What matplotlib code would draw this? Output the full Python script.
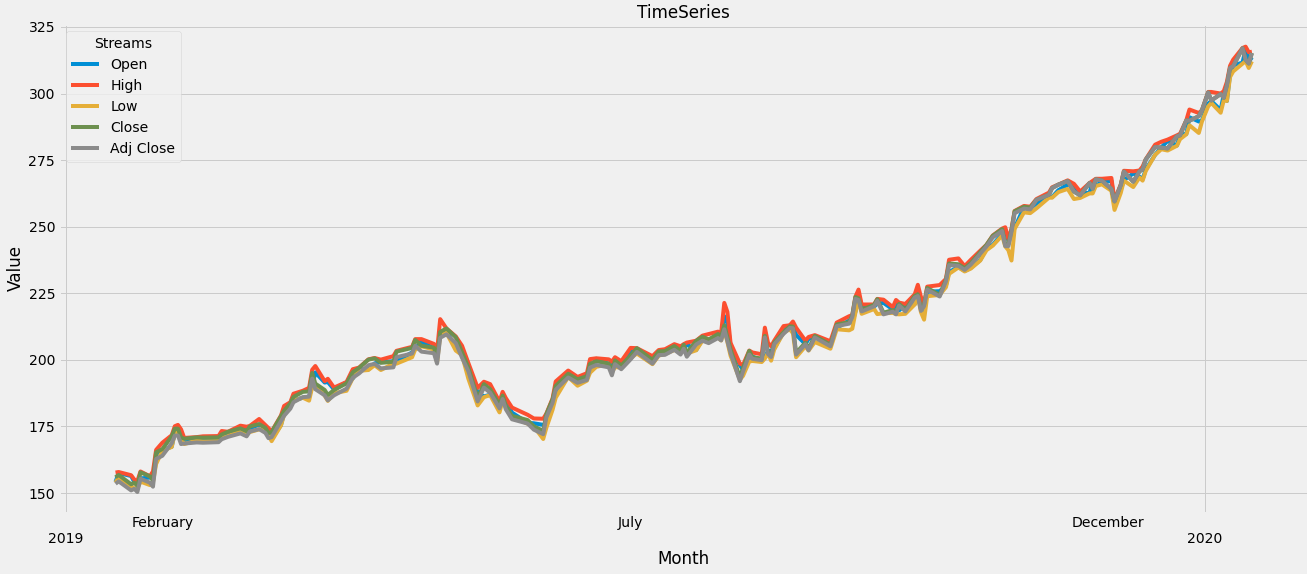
import pandas as pd
import matplotlib
matplotlib.use('Agg')
import matplotlib.pyplot as plt
import matplotlib.dates as mdates
from matplotlib.ticker import MultipleLocator, FixedLocator

plt.style.use('fivethirtyeight')

dates = [
    '2019-01-17', '2019-01-18', '2019-01-22', '2019-01-23', '2019-01-24', '2019-01-25', '2019-01-28', '2019-01-29', '2019-01-30', '2019-02-01',
    '2019-02-04', '2019-02-05', '2019-02-06', '2019-02-07', '2019-02-08', '2019-02-12', '2019-02-14', '2019-02-19', '2019-02-20', '2019-02-22',
    '2019-02-26', '2019-02-28', '2019-03-01', '2019-03-04', '2019-03-06', '2019-03-07', '2019-03-08', '2019-03-11', '2019-03-12', '2019-03-14',
    '2019-03-15', '2019-03-18', '2019-03-20', '2019-03-21', '2019-03-22', '2019-03-25', '2019-03-26', '2019-03-28', '2019-04-01', '2019-04-03',
    '2019-04-05', '2019-04-08', '2019-04-10', '2019-04-12', '2019-04-16', '2019-04-17', '2019-04-22', '2019-04-23', '2019-04-25', '2019-04-29',
    '2019-04-30', '2019-05-01', '2019-05-03', '2019-05-06', '2019-05-08', '2019-05-10', '2019-05-13', '2019-05-15', '2019-05-17', '2019-05-20',
    '2019-05-21', '2019-05-22', '2019-05-24', '2019-05-29', '2019-05-31', '2019-06-03', '2019-06-04', '2019-06-06', '2019-06-07', '2019-06-11',
    '2019-06-14', '2019-06-17', '2019-06-18', '2019-06-20', '2019-06-24', '2019-06-25', '2019-06-26', '2019-06-28', '2019-07-01', '2019-07-03',
    '2019-07-08', '2019-07-10', '2019-07-12', '2019-07-15', '2019-07-17', '2019-07-18', '2019-07-19', '2019-07-22', '2019-07-24', '2019-07-26',
    '2019-07-29', '2019-07-30', '2019-07-31', '2019-08-01', '2019-08-02', '2019-08-05', '2019-08-06', '2019-08-08', '2019-08-09', '2019-08-12',
    '2019-08-13', '2019-08-14', '2019-08-15', '2019-08-16', '2019-08-19', '2019-08-21', '2019-08-22', '2019-08-23', '2019-08-26', '2019-08-27',
    '2019-08-29', '2019-09-03', '2019-09-05', '2019-09-09', '2019-09-10', '2019-09-11', '2019-09-12', '2019-09-13', '2019-09-17', '2019-09-18',
    '2019-09-20', '2019-09-23', '2019-09-24', '2019-09-25', '2019-09-27', '2019-09-30', '2019-10-01', '2019-10-02', '2019-10-03', '2019-10-04',
    '2019-10-08', '2019-10-10', '2019-10-11', '2019-10-14', '2019-10-16', '2019-10-18', '2019-10-21', '2019-10-23', '2019-10-25', '2019-10-28',
    '2019-10-29', '2019-10-30', '2019-10-31', '2019-11-01', '2019-11-04', '2019-11-06', '2019-11-08', '2019-11-12', '2019-11-13', '2019-11-15',
    '2019-11-18', '2019-11-20', '2019-11-22', '2019-11-25', '2019-11-26', '2019-11-27', '2019-11-29', '2019-12-02', '2019-12-03', '2019-12-05',
    '2019-12-06', '2019-12-09', '2019-12-11', '2019-12-12', '2019-12-13', '2019-12-16', '2019-12-18', '2019-12-20', '2019-12-23', '2019-12-24',
    '2019-12-26', '2019-12-27', '2019-12-30', '2019-12-31', '2020-01-02', '2020-01-03', '2020-01-06', '2020-01-07', '2020-01-08', '2020-01-09',
    '2020-01-10', '2020-01-13', '2020-01-14', '2020-01-15', '2020-01-16',
]

open_ = [
    154.2, 157.5, 156.4, 154.2, 154.1, 155.5, 155.8, 156.2, 163.3, 166.1,
    167.4, 172.9, 174.7, 172.4, 168.9, 170.1, 169.7, 169.7, 171.2, 171.6,
    173.7, 174.3, 174.3, 175.7, 174.7, 173.9, 170.3, 175.5, 180.0, 183.9,
    184.8, 185.8, 186.2, 190.0, 195.3, 191.5, 191.7, 188.9, 191.6, 193.0,
    196.5, 196.4, 198.7, 199.2, 199.5, 199.5, 202.8, 204.4, 206.8, 204.4,
    203.1, 209.9, 210.9, 204.3, 201.9, 197.4, 187.7, 186.3, 186.9, 183.5,
    185.2, 184.7, 180.2, 176.4, 176.2, 175.6, 175.4, 183.1, 186.5, 194.9,
    191.6, 192.9, 196.1, 200.4, 198.5, 198.4, 197.8, 198.7, 203.2, 203.3,
    200.8, 201.9, 202.5, 204.1, 204.0, 204.0, 205.8, 203.7, 207.7, 207.5,
    208.5, 208.8, 216.4, 213.9, 205.5, 198.0, 196.3, 200.2, 201.3, 199.6,
    201.0, 203.2, 203.5, 204.3, 210.6, 213.0, 213.2, 209.4, 205.9, 207.9,
    208.5, 206.4, 212.0, 214.8, 213.9, 218.1, 224.8, 220.0, 220.0, 221.1,
    221.4, 218.95, 221.0, 218.6, 220.5, 220.9, 225.1, 223.1, 218.4, 225.6,
    225.8, 227.9, 233.0, 234.9, 233.4, 234.6, 237.5, 242.1, 243.2, 247.4,
    249.0, 244.8, 247.2, 249.5, 257.3, 256.8, 258.7, 261.6, 261.1, 263.7,
    265.8, 265.5, 262.6, 262.7, 266.9, 265.6, 266.6, 267.3, 259.0, 263.8,
    267.5, 270.0, 268.8, 267.8, 271.5, 277.0, 279.8, 282.2, 280.5, 284.7,
    284.8, 291.1, 289.5, 289.9, 296.2, 297.2, 293.8, 299.8, 297.2, 307.2,
    310.6, 311.6, 316.7, 311.9, 313.6,
]

high = [
    157.7, 157.9, 156.7, 155.1, 154.5, 158.1, 156.3, 158.1, 166.2, 168.9,
    171.7, 175.1, 175.6, 173.9, 170.7, 171.0, 171.3, 171.4, 173.3, 173.0,
    175.3, 174.9, 175.2, 177.8, 175.5, 174.4, 173.1, 179.1, 182.7, 184.1,
    187.3, 188.4, 189.5, 196.3, 197.7, 192.0, 192.9, 189.6, 191.7, 196.5,
    197.1, 200.2, 200.7, 200.1, 201.4, 203.4, 204.9, 207.8, 207.8, 206.0,
    203.4, 215.3, 211.8, 208.8, 205.3, 198.9, 189.5, 191.8, 190.9, 184.3,
    188.0, 185.7, 182.1, 179.4, 178.0, 177.9, 179.8, 185.5, 191.9, 196.0,
    193.6, 195.0, 200.3, 200.6, 200.2, 199.3, 201.0, 199.5, 204.5, 204.4,
    201.4, 203.7, 204.0, 205.9, 205.1, 205.9, 206.5, 207.2, 209.1, 209.7,
    210.6, 210.2, 221.4, 218.0, 206.4, 198.6, 198.1, 203.5, 202.8, 202.1,
    212.1, 206.4, 205.1, 207.2, 212.7, 213.0, 214.4, 212.1, 207.2, 208.6,
    209.3, 207.0, 214.0, 216.4, 216.8, 223.7, 226.4, 220.8, 220.8, 222.9,
    222.6, 219.8, 222.5, 221.5, 221.0, 224.6, 228.2, 223.6, 221.0, 227.5,
    228.1, 230.4, 237.6, 238.1, 235.2, 237.6, 241.0, 243.2, 246.7, 249.3,
    249.8, 245.3, 249.2, 255.9, 257.8, 257.5, 260.4, 262.8, 264.8, 265.8,
    267.4, 266.1, 263.2, 266.4, 267.2, 268.0, 268.0, 268.3, 260.0, 265.9,
    271.0, 270.8, 271.1, 272.6, 275.3, 280.8, 281.9, 282.7, 284.3, 284.9,
    290.0, 294.0, 292.7, 293.7, 300.6, 300.6, 300.0, 300.9, 304.4, 310.4,
    312.7, 317.1, 317.6, 315.5, 315.7,
]

low = [
    153.9, 155.98, 152.6, 151.7, 151.7, 154.3, 153.0, 154.1, 160.9, 165.9,
    167.3, 172.4, 172.9, 170.5, 168.4, 169.7, 169.4, 169.5, 170.8, 171.4,
    173.2, 172.9, 172.9, 173.9, 173.9, 171.9, 169.5, 175.4, 179.4, 182.6,
    184.7, 185.8, 184.7, 189.8, 190.8, 186.6, 184.6, 187.5, 188.4, 193.2,
    195.9, 196.2, 198.0, 196.2, 198.6, 198.6, 201.0, 203.9, 205.1, 203.9,
    199.1, 209.2, 210.2, 203.5, 201.8, 193.0, 182.9, 186.0, 186.8, 180.3,
    184.7, 182.6, 178.6, 176.0, 175.0, 170.3, 174.5, 181.3, 185.8, 193.6,
    190.3, 192.2, 195.2, 197.4, 198.4, 195.3, 197.3, 197.1, 200.7, 202.4,
    198.4, 201.6, 202.2, 203.7, 203.3, 203.7, 202.4, 203.6, 207.2, 207.1,
    208.4, 207.3, 211.3, 206.7, 201.6, 192.6, 194.0, 199.4, 199.6, 199.2,
    200.5, 202.6, 199.7, 203.9, 210.3, 211.5, 210.0, 201.0, 205.1, 203.5,
    206.7, 204.2, 211.5, 211.1, 211.7, 217.7, 222.9, 217.3, 219.1, 217.2,
    217.5, 217.65, 217.2, 217.1, 217.3, 220.8, 224.2, 217.9, 215.1, 223.9,
    224.4, 227.3, 232.3, 234.7, 233.2, 234.3, 237.3, 241.2, 242.9, 246.7,
    242.6, 241.2, 237.3, 249.2, 255.4, 255.1, 256.9, 260.9, 260.9, 263.0,
    264.2, 260.4, 260.8, 262.5, 262.5, 265.3, 265.9, 263.5, 256.3, 262.7,
    267.3, 264.9, 268.5, 267.3, 270.9, 277.0, 279.1, 278.6, 280.4, 282.9,
    284.7, 288.1, 285.2, 289.5, 295.2, 296.5, 292.8, 297.5, 297.2, 306.2,
    308.3, 311.2, 312.2, 309.6, 312.1,
]

close = [
    155.9, 156.8, 153.3, 153.9, 152.7, 157.8, 156.3, 154.7, 165.3, 166.5,
    171.3, 174.2, 174.2, 170.9, 170.4, 170.9, 170.8, 170.9, 172.0, 173.0,
    174.3, 173.2, 175.0, 175.9, 174.5, 172.5, 172.9, 178.9, 180.9, 183.7,
    186.1, 188.0, 188.2, 195.1, 191.1, 188.7, 186.8, 188.7, 191.2, 195.4,
    197.0, 200.1, 200.6, 198.9, 199.3, 203.1, 204.5, 207.5, 205.3, 204.6,
    200.7, 210.5, 211.8, 208.5, 202.9, 197.2, 185.7, 190.9, 189.0, 183.1,
    186.6, 182.8, 179.0, 177.4, 175.1, 173.3, 179.6, 185.2, 190.2, 194.8,
    192.7, 193.9, 198.5, 199.5, 198.6, 195.6, 199.8, 197.9, 201.6, 204.4,
    200.0, 203.2, 203.3, 205.2, 203.4, 205.7, 202.6, 207.2, 208.7, 207.7,
    209.7, 208.8, 213.0, 208.4, 204.0, 193.3, 197.0, 203.4, 201.0, 200.5,
    209.0, 202.8, 201.7, 206.5, 210.4, 212.6, 212.5, 202.6, 206.5, 204.2,
    209.0, 205.7, 213.3, 214.2, 216.7, 223.6, 223.1, 218.8, 220.7, 222.8,
    217.7, 218.7, 217.7, 221.0, 218.8, 224.0, 224.6, 219.0, 220.8, 227.0,
    224.4, 230.1, 236.2, 235.9, 234.4, 236.4, 240.5, 243.2, 246.6, 249.1,
    243.3, 243.3, 248.8, 255.8, 257.5, 257.2, 260.1, 262.0, 264.5, 265.8,
    267.1, 263.2, 261.8, 266.4, 264.3, 267.8, 267.3, 264.2, 259.5, 265.6,
    270.7, 266.9, 270.8, 271.5, 275.2, 279.9, 279.7, 279.4, 284.0, 284.3,
    289.9, 289.8, 291.5, 293.7, 300.4, 297.4, 299.8, 298.4, 303.2, 309.6,
    310.3, 317.0, 312.7, 311.3, 315.2,
]

adj_close = [
    153.5, 154.4, 151.0, 151.6, 150.4, 155.4, 153.9, 152.4, 162.8, 164.0,
    168.7, 171.6, 171.6, 168.4, 168.6, 169.0, 168.9, 169.1, 170.2, 171.1,
    172.4, 171.3, 173.1, 174.0, 172.6, 170.6, 171.0, 177.0, 179.0, 181.7,
    184.1, 186.0, 186.2, 193.0, 189.0, 186.7, 184.8, 186.7, 189.2, 193.3,
    194.9, 198.0, 198.5, 196.8, 197.2, 201.0, 202.4, 205.3, 203.1, 202.5,
    198.6, 208.3, 209.6, 206.3, 200.8, 195.8, 184.4, 189.6, 187.7, 181.8,
    185.3, 181.5, 177.7, 176.1, 173.8, 172.1, 178.4, 183.9, 188.8, 193.4,
    191.4, 192.5, 197.1, 198.1, 197.2, 194.2, 198.4, 196.5, 200.2, 203.0,
    198.6, 201.8, 201.9, 203.8, 202.0, 204.2, 201.2, 205.8, 207.2, 206.3,
    208.2, 207.3, 211.5, 207.0, 202.6, 192.0, 195.6, 202.0, 200.4, 199.9,
    208.4, 202.2, 201.1, 205.9, 209.8, 212.0, 211.9, 202.0, 205.9, 203.6,
    208.4, 205.1, 212.7, 213.6, 216.1, 222.9, 222.5, 218.2, 220.1, 222.2,
    217.1, 218.1, 217.1, 220.4, 218.2, 223.4, 224.0, 218.4, 220.2, 226.4,
    223.8, 229.5, 235.6, 235.3, 233.8, 235.8, 239.9, 242.6, 246.0, 248.4,
    242.7, 242.7, 248.1, 255.1, 256.8, 256.5, 260.1, 262.0, 264.5, 265.8,
    267.1, 263.2, 261.8, 266.4, 264.3, 267.8, 267.3, 264.2, 259.5, 265.6,
    270.7, 266.9, 270.8, 271.5, 275.2, 279.9, 279.7, 279.4, 284.0, 284.3,
    289.9, 289.8, 291.5, 293.7, 300.4, 297.4, 299.8, 298.4, 303.2, 309.6,
    310.3, 317.0, 312.7, 311.3, 315.2,
]

# month names shown under the axis
month_ticks = ['2019-02-01', '2019-07-01', '2019-12-01']

df = pd.DataFrame({'Open': open_, 'High': high, 'Low': low,
                   'Close': close, 'Adj Close': adj_close},
                  index=pd.to_datetime(dates))

fig = plt.figure(figsize=(1307 / 72, 574 / 72), dpi=72)
ax = fig.add_axes([58.7 / 1307, 61.5 / 574, 1250 / 1307, 488.2 / 574])

for col in df.columns:
    ax.plot(df.index, df[col], label=col, linewidth=4)

ax.set_ylim(142.7, 326.0)
ax.yaxis.set_major_locator(MultipleLocator(25))

# years as major ticks (with grid), a few month names as minor ticks
ax.xaxis.set_major_locator(mdates.YearLocator())
ax.xaxis.set_major_formatter(mdates.DateFormatter('%Y'))
ax.xaxis.set_minor_locator(FixedLocator(mdates.date2num(pd.to_datetime(month_ticks))))
ax.xaxis.set_minor_formatter(mdates.DateFormatter('%B'))
ax.tick_params(axis='x', which='major', pad=19.5, labelsize=14)
ax.tick_params(axis='x', which='minor', pad=3.5, labelsize=14)
ax.tick_params(axis='y', labelsize=14)

ax.set_title('TimeSeries', fontsize=16.8)
ax.set_xlabel('Month', fontsize=16.8)
ax.set_ylabel('Value', fontsize=16.8)
ax.legend(title='Streams', loc='upper left', fontsize=14, title_fontsize=14)

fig.savefig('out.png', dpi=72)
